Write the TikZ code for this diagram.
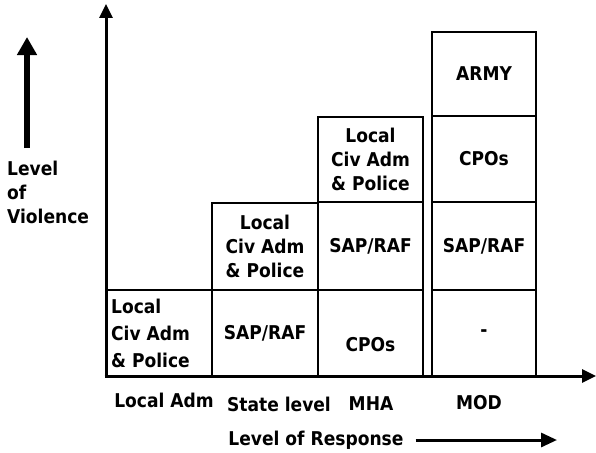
\documentclass[tikz,border=0pt]{standalone}
\usepackage{fontspec}
\setmainfont{DejaVu Sans Condensed}
\usetikzlibrary{arrows.meta}
\begin{document}
\begin{tikzpicture}[x=1pt,y=-1pt,
  txt/.style={font=\fontsize{19}{24}\selectfont\bfseries, inner sep=0pt},
  cell/.style={txt, draw, line width=2pt, align=center},
  axis/.style={line width=3pt, -{Triangle[length=14pt,width=13pt]}},
  bigarrow/.style={line width=6pt, -{Triangle[length=18pt,width=19pt]}},
  resparrow/.style={line width=3pt, -{Triangle[length=16pt,width=14pt]}}]
\useasboundingbox (0,0) rectangle (596,452);
\fill[white] (0,0) rectangle (596,452);
% column 1
\node[cell, minimum width=106, minimum height=86] (c1) at (159,333) {};
\node[txt, align=left, anchor=west, font=\fontsize{19}{27}\selectfont\bfseries] (c1t) at ([xshift=6]c1.west) {Local\\Civ Adm\\\& Police};
% column 2
\node[cell, minimum width=106, minimum height=86] (c2a) at (265,333) {SAP/RAF};
\node[cell, minimum width=106, minimum height=87] (c2b) at (265,246.5) {Local\\Civ Adm\\\& Police};
% column 3
\node[cell, minimum width=105, minimum height=86] (c3a) at (370.5,333) {};
\node[txt] (c3at) at (370.5,345) {CPOs};
\node[cell, minimum width=105, minimum height=88] (c3b) at (370.5,246) {SAP/RAF};
\node[cell, minimum width=105, minimum height=85] (c3c) at (370.5,159.5) {Local\\Civ Adm\\\& Police};
% column 4
\node[cell, minimum width=104, minimum height=86] (c4a) at (484,333) {-};
\node[cell, minimum width=104, minimum height=88] (c4b) at (484,246) {SAP/RAF};
\node[cell, minimum width=104, minimum height=86] (c4c) at (484,159) {CPOs};
\node[cell, minimum width=104, minimum height=84] (c4d) at (484,74) {ARMY};
% axes
\coordinate (O) at (106,377);
\coordinate (ytop) at (106,4);
\coordinate (xend) at (596,376);
\draw[axis] (O) -- (ytop);
\draw[axis] ([xshift=-1.5pt]O |- xend) -- (xend);
% left label and arrow
\coordinate (va) at (27,148);
\coordinate (vb) at (27,37);
\draw[bigarrow] (va) -- (vb);
\node[txt, align=left, anchor=west] (viol) at (7,192) {Level\\of\\Violence};
% bottom labels
\node[txt] (l1) at (164,400) {Local Adm};
\node[txt] (l2) at (279,404) {State level};
\node[txt] (l3) at (371,404) {MHA};
\node[txt] (l4) at (479,403) {MOD};
\node[txt] (resp) at (316,440) {Level of Response};
\coordinate (rb) at (557,440);
\draw[resparrow] ([xshift=12pt]resp.east) -- (rb);
\end{tikzpicture}
\end{document}
